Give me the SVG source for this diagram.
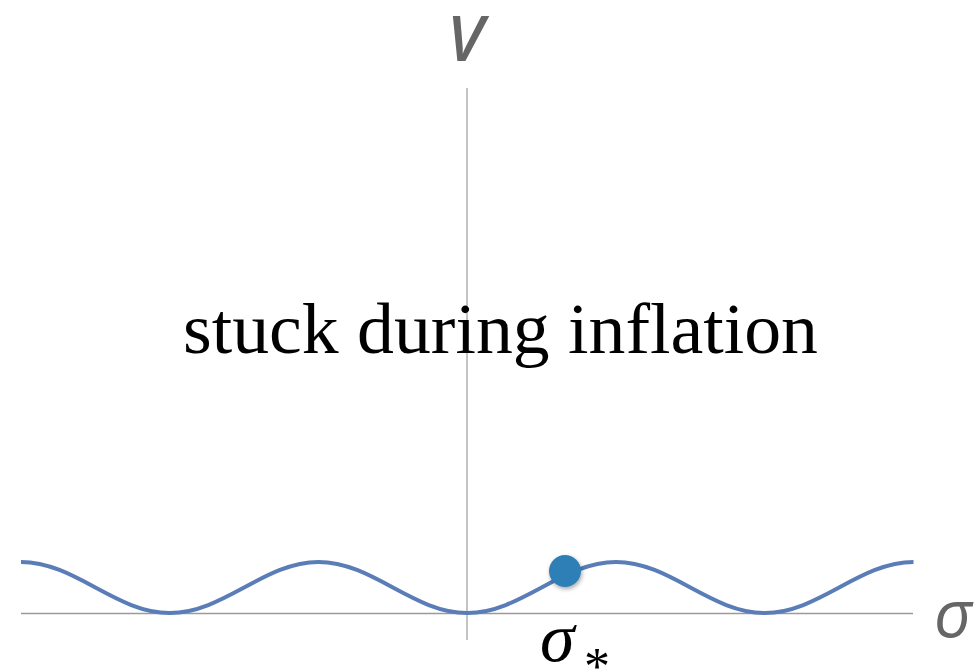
<svg xmlns="http://www.w3.org/2000/svg" width="978" height="672" viewBox="0 0 978 672">
<style>
.axis{stroke:#9a9a9a;stroke-width:1.5;fill:none}
.curve{stroke:#5a7db8;stroke-width:4;fill:none}
.lbl{font-family:"Open Sans","Liberation Sans",sans-serif;font-style:italic;fill:#666}
.serif{font-family:"Liberation Serif","Times New Roman",serif;fill:#000}
</style>
<defs>
<filter id="sh" x="-50%" y="-50%" width="200%" height="200%">
<feDropShadow dx="1" dy="2" stdDeviation="2" flood-color="#000" flood-opacity="0.35"/>
</filter>
</defs>
<rect width="978" height="672" fill="#fff"/>
<g id="axes">
<line class="axis" x1="21" y1="613.5" x2="913" y2="613.5"/>
<line class="axis" x1="467" y1="88" x2="467" y2="640" style="stroke:#b0b0b0"/>
</g>
<g id="potential">
<path class="curve" d="M21,562 C75.17,562 115.58,613 169.75,613 S264.33,562 318.5,562 S413.08,613 467.25,613 S561.83,562 616,562 S710.58,613 764.75,613 S859.33,562 913.5,562"/>
</g>
<g id="field-dot">
<circle cx="565" cy="571" r="16" fill="#2f7fb6" filter="url(#sh)"/>
</g>
<g id="labels">
<text class="lbl" x="447" y="61" font-size="64" font-weight="600">V</text>
<text class="lbl" x="934" y="637" font-size="66">σ</text>
<text class="serif" x="183" y="353" font-size="72" textLength="635" lengthAdjust="spacingAndGlyphs">stuck during inflation</text>
<text class="serif" x="540" y="661" font-size="70" font-style="italic">σ</text>
<text class="serif" x="584" y="684" font-size="52">*</text>
</g>
</svg>
